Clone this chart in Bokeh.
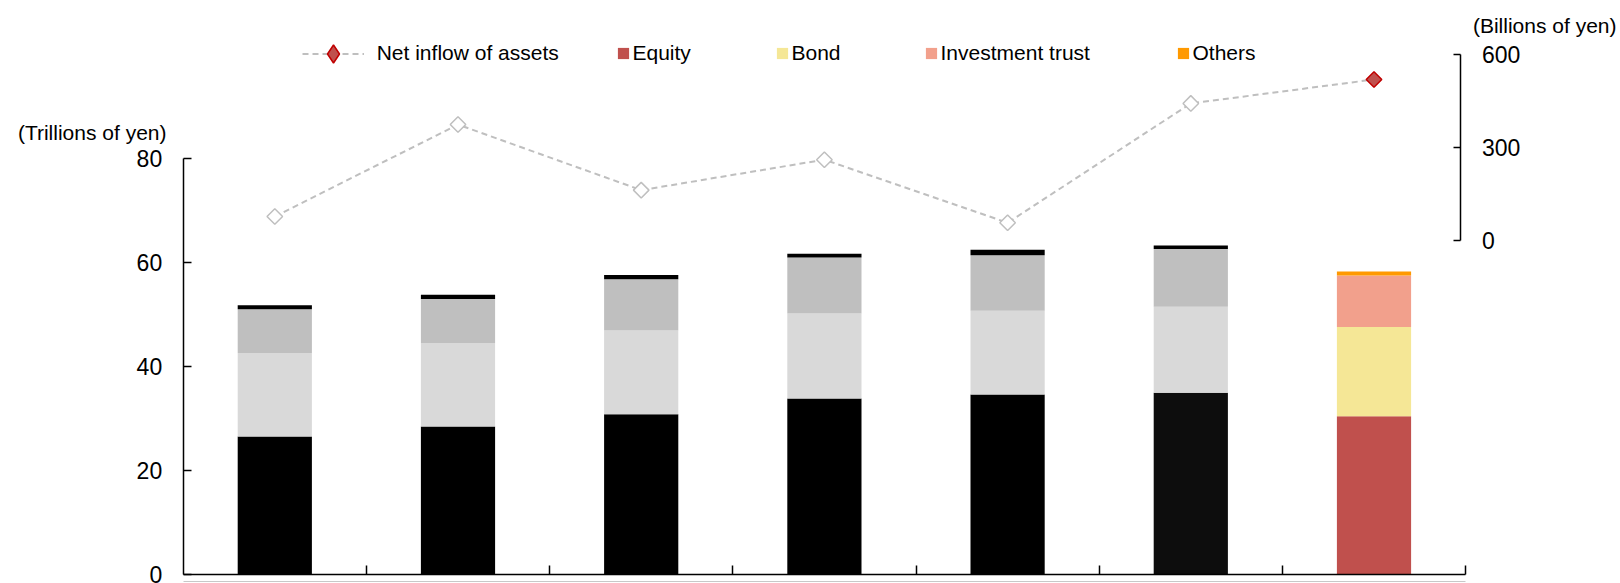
import math
from bokeh.plotting import figure
from bokeh.models import (Range1d, LinearAxis, FixedTicker, Legend, LegendItem,
                          Label, ColumnDataSource, CustomLabelingPolicy)
from bokeh.embed import file_html
from bokeh.resources import INLINE

# ---- data ----
equity = [26.5, 28.4, 30.8, 33.8, 34.6, 34.9, 30.4]
bond = [16.1, 16.1, 16.1, 16.4, 16.1, 16.6, 17.2]
inv_trust = [8.4, 8.5, 9.9, 10.8, 10.7, 11.1, 9.9]
others = [0.8, 0.8, 0.8, 0.7, 1.1, 0.7, 0.8]
net_inflow = [77, 373, 162, 260, 57, 441, 518]
series_names = ["Equity", "Bond", "Investment trust", "Others"]
line_name = "Net inflow of assets"
left_ticks = [0, 20, 40, 60, 80]
right_ticks = [0, 300, 600]
left_title = "(Trillions of yen)"
right_title = "(Billions of yen)"

FONT = "Liberation Sans"
n = len(equity)
last = n - 1

gray_cols = ["#000000", "#D9D9D9", "#BFBFBF", "#000000"]
hi_cols = ["#C0504D", "#F5E796", "#F2A08C", "#FF9900"]

src = ColumnDataSource(dict(
    x=[i + 0.5 for i in range(n)],
    equity=equity, bond=bond, inv_trust=inv_trust, others=others,
    net=net_inflow,
    eq_c=[("#0D0D0D" if i == 5 else gray_cols[0]) if i != last else hi_cols[0] for i in range(n)],
    bd_c=[gray_cols[1] if i != last else hi_cols[1] for i in range(n)],
    it_c=[gray_cols[2] if i != last else hi_cols[2] for i in range(n)],
    ot_c=[gray_cols[3] if i != last else hi_cols[3] for i in range(n)],
    mk_fill=["#FFFFFF" if i != last else "#C0504D" for i in range(n)],
    mk_line=["#BFBFBF" if i != last else "#C00000" for i in range(n)],
))

# ---- geometry (frame = whole canvas, axes at fixed data locations) ----
W, H = 1620, 583
x0_px, cat_px = 182.7, 183.2       # pixel of x=0, pixels per category
y0_px, px_per_unit = 573.5, 5.19   # pixel of y=0, pixels per trillion yen
x_start = -x0_px / cat_px
x_end = (W - x0_px) / cat_px
y_start = -(H - y0_px) / px_per_unit
y_end = y0_px / px_per_unit
right_axis_x = (1459.5 - x0_px) / cat_px
# right axis: 0 sits at left-value 64.26, 600 at left-value 100.19
r0_left, r600_left = 64.26, 100.19
r_per_l = 600 / (r600_left - r0_left)
r_start = (y_start - r0_left) * r_per_l
r_end = (y_end - r0_left) * r_per_l

p = figure(width=W, height=H, x_range=Range1d(x_start, x_end), y_range=Range1d(y_start, y_end),
           output_backend="svg", toolbar_location=None, min_border=0,
           min_border_left=0, min_border_right=0, min_border_top=0, min_border_bottom=0)
p.extra_y_ranges = {"right": Range1d(r_start, r_end)}
p.grid.visible = False
p.outline_line_color = None
p.background_fill_color = "white"
p.border_fill_color = "white"

bars = p.vbar_stack(["equity", "bond", "inv_trust", "others"], x="x", width=0.405,
                    source=src, fill_color=["eq_c", "bd_c", "it_c", "ot_c"],
                    line_color=None)

line_r = p.line("x", "net", source=src, y_range_name="right", line_color="#BFBFBF",
                line_width=2, line_dash="6 4")
mk_r = p.scatter("x", "net", source=src, y_range_name="right", marker="square",
                 angle=math.pi / 4, size=11, fill_color="mk_fill", line_color="mk_line",
                 line_width=1.5)
# legend-only diamond (not shown in the plot area)
mk_leg = p.scatter("x", "net", source=src, y_range_name="right", marker="diamond",
                   size=16, fill_color="mk_fill", line_color="mk_line", line_width=1.5,
                   visible=False)

# ---- axes ----
yl = p.yaxis[0]
yl.fixed_location = 0
yl.bounds = (0, 80)
yl.ticker = FixedTicker(ticks=left_ticks)
yl.major_tick_in = 8
yl.major_tick_out = 0
yl.major_label_standoff = 21

yr = LinearAxis(y_range_name="right", bounds=(0, 600), ticker=FixedTicker(ticks=right_ticks),
                fixed_location=right_axis_x)
yr.major_tick_in = 7
yr.major_tick_out = 0
yr.major_label_standoff = 22
p.add_layout(yr, "right")

for ax in (yl, yr):
    ax.minor_tick_line_color = None
    ax.axis_line_width = 1.5
    ax.major_tick_line_width = 1.5
    ax.major_label_text_font = FONT
    ax.major_label_text_font_size = "23px"
    ax.major_label_text_color = "#000000"
    ax.axis_line_color = "#000000"
    ax.major_tick_line_color = "#000000"

xa = p.xaxis[0]
xa.fixed_location = 0
xa.bounds = (0, n)
xa.ticker = FixedTicker(ticks=list(range(1, n + 1)))
xa.major_tick_in = 9
xa.major_tick_out = 0
xa.minor_tick_line_color = None
xa.major_label_text_font_size = "0px"
xa.major_label_policy = CustomLabelingPolicy(code="return []")
xa.major_label_standoff = 0
xa.axis_line_width = 1.5
xa.major_tick_line_width = 1.5
xa.axis_line_color = "#000000"
xa.major_tick_line_color = "#000000"

# thin grey rule under the category axis
xb = LinearAxis(fixed_location=-(580.5 - y0_px) / px_per_unit, bounds=(0, n),
                ticker=FixedTicker(ticks=[]))
xb.axis_line_color = "#C8C8C8"
xb.axis_line_width = 1
xb.major_tick_line_color = None
xb.minor_tick_line_color = None
xb.major_label_text_font_size = "0px"
p.add_layout(xb, "below")

# ---- legends ----
leg_common = dict(orientation="horizontal", padding=0, margin=0, border_line_color=None,
                  background_fill_alpha=0, label_text_font=FONT, label_height=24,
                  label_text_font_size="21px", label_text_color="#000000")
center_from_bottom = H - 53.3
p.add_layout(Legend(items=[LegendItem(label=line_name, renderers=[line_r, mk_leg], index=last)],
                    location=(301.7, center_from_bottom - 22.5), glyph_width=62, glyph_height=45,
                    label_standoff=13, **leg_common))
glyph_x = [617, 776, 925, 1177]
for nm, r, gx in zip(series_names, bars, glyph_x):
    p.add_layout(Legend(items=[LegendItem(label=nm, renderers=[r], index=last)],
                        location=(gx - 1.5, center_from_bottom - 12), glyph_width=14,
                        glyph_height=14, label_standoff=3, **leg_common))

# ---- axis titles ----
p.add_layout(Label(x=(166 - x0_px) / cat_px, y=(y0_px - 132) / px_per_unit, text=left_title,
                   text_align="right", text_baseline="middle", text_font=FONT,
                   text_font_size="21px", text_color="#000000"))
p.add_layout(Label(x=(1616 - x0_px) / cat_px, y=(y0_px - 25) / px_per_unit, text=right_title,
                   text_align="right", text_baseline="middle", text_font=FONT,
                   text_font_size="21px", text_color="#000000"))

open("out.html", "w").write(file_html(p, INLINE))
